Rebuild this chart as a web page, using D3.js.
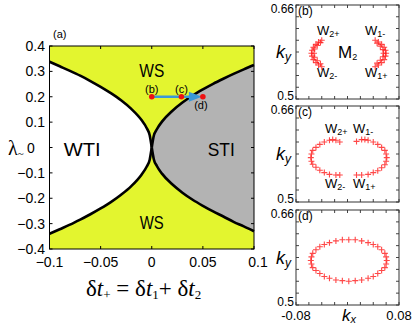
<!DOCTYPE html>
<html><head><meta charset="utf-8">
<script src="https://cdn.jsdelivr.net/npm/d3@7"></script>
<style>body{margin:0;background:#fff}svg{display:block}</style>
</head><body>
<script>
// ---- main phase diagram data ----
const dtLeft = [-0.1,-0.09,-0.08,-0.07,-0.06,-0.05,-0.04,-0.03,-0.02,-0.01,-0.005,-0.002,0];
const lamUpperLeft = [0.338,0.32,0.302,0.283,0.262,0.239,0.214,0.186,0.152,0.108,0.077,0.048,0];
const lamLowerLeft = [-0.34,-0.322,-0.304,-0.284,-0.263,-0.24,-0.215,-0.186,-0.152,-0.107,-0.076,-0.048,0];
const dtRight = [0,0.002,0.005,0.01,0.02,0.03,0.04,0.05,0.06,0.07,0.08,0.09,0.1];
const lamUpperRight = [0,0.046,0.072,0.102,0.144,0.177,0.205,0.229,0.251,0.271,0.29,0.308,0.325];
const lamLowerRight = [0,-0.046,-0.073,-0.103,-0.145,-0.178,-0.206,-0.23,-0.252,-0.272,-0.293,-0.311,-0.33];
const pathNames = ["(b)","(c)","(d)"];
const pathDt = [0, 0.029, 0.05];
const pathLam = [0.2, 0.2, 0.2];
const xTicksMain = [-0.1,-0.05,0,0.05,0.1];
const yTicksMain = [-0.4,-0.3,-0.2,-0.1,0,0.1,0.2,0.3,0.4];
const regionNames = ["WS","WTI","STI","WS"];
const regionDt = [0, -0.068, 0.068, 0];
const regionLam = [0.31, 0, 0, -0.29];

// ---- k-space contour data (kx, ky) ----
const panelB = [[-0.040,0.600],[-0.045,0.597],[-0.049,0.593],[-0.053,0.588],[-0.055,0.583],[-0.056,0.578],[-0.055,0.573],[-0.053,0.567],[-0.049,0.562],[-0.045,0.558],[-0.040,0.555],
  [-0.042,0.596],[-0.047,0.591],[-0.051,0.585],[-0.052,0.578],[-0.051,0.571],[-0.047,0.565],[-0.042,0.560],
  [0.043,0.600],[0.048,0.597],[0.053,0.593],[0.057,0.588],[0.059,0.583],[0.060,0.578],[0.059,0.573],[0.057,0.567],[0.053,0.562],[0.048,0.558],[0.043,0.555],
  [0.046,0.595],[0.051,0.590],[0.055,0.584],[0.056,0.578],[0.055,0.572],[0.051,0.566],[0.046,0.561]];
const panelC = [[-0.012,0.600],[-0.018,0.603],[-0.023,0.604],[-0.028,0.603],[-0.036,0.600],[-0.043,0.596],[-0.049,0.591],[-0.054,0.586],[-0.056,0.580],[-0.057,0.574],[-0.056,0.568],[-0.054,0.563],[-0.049,0.558],[-0.043,0.553],[-0.036,0.549],[-0.028,0.546],[-0.018,0.545],[-0.012,0.545],
  [0.014,0.601],[0.022,0.604],[0.027,0.604],[0.032,0.603],[0.040,0.600],[0.047,0.596],[0.053,0.591],[0.058,0.586],[0.060,0.580],[0.061,0.574],[0.060,0.568],[0.058,0.562],[0.053,0.557],[0.047,0.552],[0.040,0.549],[0.032,0.546],[0.022,0.545],[0.014,0.545]];
const panelD = [[0.061,0.575],[0.060,0.581],[0.058,0.587],[0.053,0.593],[0.047,0.598],[0.040,0.602],[0.032,0.605],[0.022,0.608],[0.012,0.610],[0.002,0.610],[-0.008,0.610],[-0.018,0.608],[-0.028,0.605],[-0.036,0.602],[-0.043,0.598],[-0.049,0.593],[-0.054,0.587],[-0.056,0.581],[-0.057,0.575],[-0.056,0.569],[-0.054,0.563],[-0.049,0.558],[-0.043,0.553],[-0.036,0.548],[-0.028,0.545],[-0.018,0.542],[-0.008,0.541],[0.002,0.540],[0.012,0.541],[0.022,0.542],[0.032,0.545],[0.040,0.548],[0.047,0.553],[0.053,0.558],[0.058,0.563],[0.060,0.569]];
const kTicks = [-0.08,-0.06,-0.04,-0.02,0,0.02,0.04,0.06,0.08];
const kyTicks = [0.5,0.52,0.54,0.56,0.58,0.6,0.62,0.64,0.66];

const svg = d3.select("body").append("svg").attr("width",412).attr("height",327);
const sans = "Liberation Sans, Arial, sans-serif";
const serif = "Liberation Serif, Times New Roman, serif";

// ---- main plot ----
const x = d3.scaleLinear().domain([-0.1,0.1]).range([49.5,254]);
const y = d3.scaleLinear().domain([-0.4,0.4]).range([249,46]);
const g = svg.append("g");
g.append("rect").attr("x",x(-0.1)).attr("y",y(0.4)).attr("width",x(0.1)-x(-0.1)).attr("height",y(-0.4)-y(0.4)).attr("fill","#e3f52f");
const leftTbl = dtLeft.map((d,i)=>({dt:d,u:lamUpperLeft[i],l:lamLowerLeft[i]}));
const rightTbl = dtRight.map((d,i)=>({dt:d,u:lamUpperRight[i],l:lamLowerRight[i]}));
const area = d3.area().x(d=>x(d.dt)).y0(d=>y(d.l)).y1(d=>y(d.u)).curve(d3.curveMonotoneX);
g.append("path").attr("d",area(leftTbl)).attr("fill","#ffffff");
g.append("path").attr("d",area(rightTbl)).attr("fill","#b3b3b3");
const lineU = d3.line().x(d=>x(d.dt)).y(d=>y(d.u)).curve(d3.curveMonotoneX);
const lineL = d3.line().x(d=>x(d.dt)).y(d=>y(d.l)).curve(d3.curveMonotoneX);
[leftTbl,rightTbl].forEach(t=>{
  g.append("path").attr("d",lineU(t)).attr("fill","none").attr("stroke","#000").attr("stroke-width",2.6);
  g.append("path").attr("d",lineL(t)).attr("fill","none").attr("stroke","#000").attr("stroke-width",2.6);
});
g.append("rect").attr("x",x(-0.1)).attr("y",y(0.4)).attr("width",x(0.1)-x(-0.1)).attr("height",y(-0.4)-y(0.4)).attr("fill","none").attr("stroke","#000").attr("stroke-width",1);
yTicksMain.forEach(v=>{
  g.append("line").attr("x1",x(-0.1)).attr("x2",x(-0.1)+3).attr("y1",y(v)).attr("y2",y(v)).attr("stroke","#000");
  g.append("line").attr("x1",x(0.1)).attr("x2",x(0.1)-3).attr("y1",y(v)).attr("y2",y(v)).attr("stroke","#000");
  g.append("text").attr("x", v===0?27:45).attr("y",y(v)+5).attr("text-anchor",v===0?"start":"end")
    .attr("font-family",sans).attr("font-size",14).text(d3.format("")(v));
});
xTicksMain.forEach(v=>{
  g.append("line").attr("x1",x(v)).attr("x2",x(v)).attr("y1",y(-0.4)).attr("y2",y(-0.4)-3).attr("stroke","#000");
  g.append("line").attr("x1",x(v)).attr("x2",x(v)).attr("y1",y(0.4)).attr("y2",y(0.4)+3).attr("stroke","#000");
  g.append("text").attr("x",x(v)+(v===0.1?4:0)).attr("y",267).attr("text-anchor","middle")
    .attr("font-family",sans).attr("font-size",14).text(d3.format("")(v));
});
const regionWidth = [25, 37, 27, 24];
regionNames.forEach((n,i)=>{
  g.append("text").attr("x",x(regionDt[i])).attr("y",y(regionLam[i])+8).attr("text-anchor","middle")
    .attr("font-family",sans).attr("font-size",19)
    .attr("textLength",regionWidth[i]).attr("lengthAdjust","spacingAndGlyphs").text(n);
});
const bx = x(pathDt[0]), dx = x(pathDt[2]), py = y(pathLam[0]);
g.append("line").attr("x1",bx).attr("x2",dx-12).attr("y1",py).attr("y2",py).attr("stroke","#3a98d8").attr("stroke-width",2.7);
g.append("path").attr("d",`M${dx-1},${py} L${dx-14},${py-5} L${dx-14},${py+5} Z`).attr("fill","#3a98d8");
pathNames.forEach((n,i)=>{
  g.append("circle").attr("cx",x(pathDt[i])).attr("cy",y(pathLam[i])).attr("r",2.8).attr("fill","#ee1111");
  const up = i<2;
  g.append("text").attr("x",x(pathDt[i])+(up?0:-2)).attr("y",up?y(pathLam[i])-4:y(pathLam[i])+12).attr("text-anchor","middle")
    .attr("font-family",sans).attr("font-size",11).text(n);
});
g.append("text").attr("x",53).attr("y",38).attr("font-family",sans).attr("font-size",11).text("(a)");
const yt = g.append("text").attr("x",8).attr("y",155).attr("font-family",serif).attr("font-size",20);
yt.append("tspan").text("λ");
yt.append("tspan").attr("font-size",11).attr("dy",2).text("~");
const xt = g.append("text").attr("x",86).attr("y",296).attr("font-family",serif).attr("font-size",23);
xt.append("tspan").text("δ");
xt.append("tspan").attr("font-style","italic").text("t");
xt.append("tspan").attr("font-size",13).attr("dy",3).text("+");
xt.append("tspan").attr("dy",-3).text(" = δ");
xt.append("tspan").attr("font-style","italic").text("t");
xt.append("tspan").attr("font-size",13).attr("dy",3).text("1");
xt.append("tspan").attr("dy",-3).text("+ δ");
xt.append("tspan").attr("font-style","italic").text("t");
xt.append("tspan").attr("font-size",13).attr("dy",3).text("2");

// ---- k-space panels ----
const panels = [
  {pts:panelB, top:5, bot:99, tag:"(b)"},
  {pts:panelC, top:106, bot:202, tag:"(c)"},
  {pts:panelD, top:210, bot:305, tag:"(d)"}
];
const kx = d3.scaleLinear().domain([-0.08,0.08]).range([296,399]);
panels.forEach((p,pi)=>{
  const ky = d3.scaleLinear().domain([0.5,0.66]).range([p.bot,p.top]);
  const pg = svg.append("g");
  kTicks.forEach(v=>{
    pg.append("line").attr("x1",kx(v)).attr("x2",kx(v)).attr("y1",p.bot).attr("y2",p.bot-3).attr("stroke","#444");
    pg.append("line").attr("x1",kx(v)).attr("x2",kx(v)).attr("y1",p.top).attr("y2",p.top+3).attr("stroke","#444");
  });
  kyTicks.forEach(v=>{
    pg.append("line").attr("x1",296).attr("x2",299).attr("y1",ky(v)).attr("y2",ky(v)).attr("stroke","#444");
    pg.append("line").attr("x1",399).attr("x2",396).attr("y1",ky(v)).attr("y2",ky(v)).attr("stroke","#444");
  });
  pg.append("rect").attr("x",296).attr("y",p.top).attr("width",103).attr("height",p.bot-p.top).attr("fill","none").attr("stroke","#333").attr("stroke-width",1);
  p.pts.forEach(d=>{
    const cx = kx(d[0]), cy = ky(d[1]);
    pg.append("path").attr("d",`M${cx-3},${cy}H${cx+3}M${cx},${cy-3}V${cy+3}`).attr("stroke","#ff1a1a").attr("stroke-opacity",0.8).attr("stroke-width",1.1);
  });
  pg.append("text").attr("x",298).attr("y",p.top+10).attr("font-family",sans).attr("font-size",12).text(p.tag);
  pg.append("text").attr("x",294).attr("y",p.top+8).attr("text-anchor","end").attr("font-family",sans).attr("font-size",12).text("0.66");
  pg.append("text").attr("x",294).attr("y",p.bot+1).attr("text-anchor","end").attr("font-family",sans).attr("font-size",12).text("0.5");
  const kyl = pg.append("text").attr("x",276).attr("y",(p.top+p.bot)/2+6).attr("font-family",sans).attr("font-size",18).attr("font-style","italic");
  kyl.append("tspan").text("k");
  kyl.append("tspan").attr("font-size",12).attr("dy",3).text("y");
});
function wlab(xp, yp, sub, size){
  const t = svg.append("text").attr("x",xp).attr("y",yp).attr("font-family",sans).attr("font-size",size||13);
  t.append("tspan").text(sub[0]);
  t.append("tspan").attr("font-size",9).attr("dy",2).text(sub[1]);
}
wlab(317,35,["W","2+"]); wlab(365,35,["W","1-"]); wlab(317,77,["W","2-"]); wlab(365,77,["W","1+"]);
wlab(338,58,["M","2"],17);
wlab(325,133,["W","2+"]); wlab(353,133,["W","1-"]); wlab(325,188,["W","2-"]); wlab(353,188,["W","1+"]);
svg.append("text").attr("x",kx(-0.08)).attr("y",320).attr("text-anchor","middle").attr("font-family",sans).attr("font-size",13).text("-0.08");
svg.append("text").attr("x",kx(0.08)).attr("y",320).attr("text-anchor","middle").attr("font-family",sans).attr("font-size",13).text("0.08");
const kxl = svg.append("text").attr("x",342).attr("y",321).attr("font-family",sans).attr("font-size",17).attr("font-style","italic");
kxl.append("tspan").text("k");
kxl.append("tspan").attr("font-size",11).attr("dy",2).text("x");
</script>
</body></html>
